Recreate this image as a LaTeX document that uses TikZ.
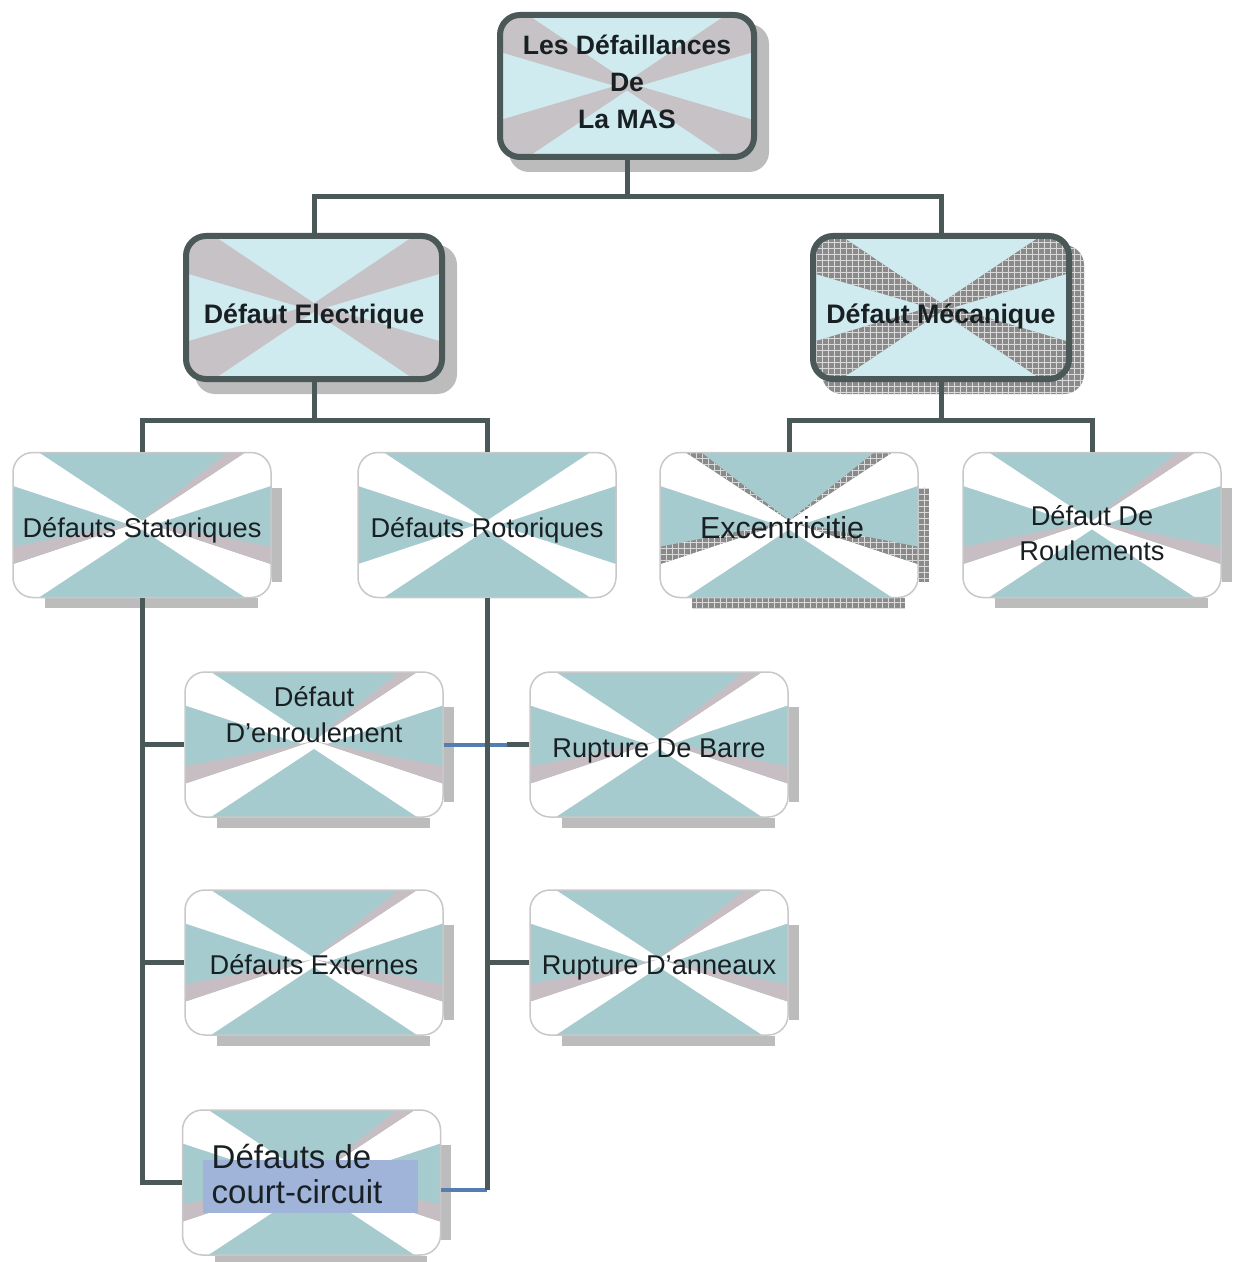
\documentclass[tikz,border=0pt]{standalone}
\usepackage{fontspec}
\setmainfont{Liberation Sans}
\usetikzlibrary{calc,patterns,backgrounds}

\definecolor{bord}{RGB}{75,88,88}
\definecolor{topfill}{RGB}{208,235,239}
\definecolor{topx}{RGB}{198,194,198}
\definecolor{l3fill}{RGB}{166,203,207}
\definecolor{l3bord}{RGB}{200,200,200}
\definecolor{shad}{RGB}{188,188,188}
\definecolor{darkx}{RGB}{138,138,138}
\definecolor{sliver}{RGB}{198,190,194}
\definecolor{hl}{RGB}{160,180,218}
\definecolor{blueline}{RGB}{85,125,175}
\definecolor{txt}{RGB}{25,32,35}

\newcommand\ppcoords{%
  \coordinate (pc) at (path picture bounding box.center);
  \coordinate (pnw) at (path picture bounding box.north west);
  \coordinate (pne) at (path picture bounding box.north east);
  \coordinate (psw) at (path picture bounding box.south west);
  \coordinate (pse) at (path picture bounding box.south east);}

% tapered bands from the four corners towards the centre
% #1 style, #2 fraction along vertical edge, #3 fraction along horizontal edge
\newcommand\bands[3]{%
  \path[sharp corners,#1] ($(pnw)!#2!(psw)$) -- (pnw) -- ($(pnw)!#3!(pne)$) -- ($(pc)+(2,-3)$) -- ($(pc)+(-2,3)$) -- cycle;
  \path[sharp corners,#1] ($(pne)!#3!(pnw)$) -- (pne) -- ($(pne)!#2!(pse)$) -- ($(pc)+(2,3)$) -- ($(pc)+(-2,-3)$) -- cycle;
  \path[sharp corners,#1] ($(psw)!#2!(pnw)$) -- (psw) -- ($(psw)!#3!(pse)$) -- ($(pc)+(2,3)$) -- ($(pc)+(-2,-3)$) -- cycle;
  \path[sharp corners,#1] ($(pse)!#2!(pne)$) -- (pse) -- ($(pse)!#3!(psw)$) -- ($(pc)+(-2,3)$) -- ($(pc)+(2,-3)$) -- cycle;}

\newcommand\xtopw[1]{\ppcoords\bands{#1}{0.26}{0.11}}

\newcommand\xthree[2]{%
  \ppcoords
  \bands{fill=white}{0.23}{0.10}
  \path[sharp corners,#1] ($(pne)!0.17!(pnw)$) -- ($(pne)!0.10!(pnw)$) -- ($(pc)+(-2,-3)$) -- cycle;
  \path[sharp corners,#1] ($(psw)!0.35!(pnw)$) -- ($(psw)!0.23!(pnw)$) -- ($(pc)+(-2,-3)$) -- cycle;
  \path[sharp corners,#1] ($(pse)!0.23!(pne)$) -- ($(pse)!0.35!(pne)$) -- ($(pc)+(2,-3)$) -- cycle;
  \path[sharp corners,#2] ($(pnw)!0.10!(pne)$) -- ($(pnw)!0.16!(pne)$) -- ($(pc)+(2,-3)$) -- cycle;}

\newcommand\boxtxt[2]{\raisebox{\dimexpr #1-0.61em+0.2\baselineskip\relax}[0pt][0pt]{\begin{tabular}{@{}c@{}}#2\end{tabular}}}
\newcommand\boxtxtl[2]{\raisebox{\dimexpr #1-0.61em+0.2\baselineskip\relax}[0pt][0pt]{\begin{tabular}{@{}l@{}}#2\end{tabular}}}

\newcommand\lowshadow[2]{%
  \fill[#2] ($(#1.north east)+(0,36)$) rectangle ($(#1.south east)+(10,-16)$);
  \fill[#2] ($(#1.south west)+(33,0)$) rectangle ($(#1.south east)+(-14,10)$);}

\tikzset{
  conn/.style={draw=bord, line width=2.5pt},
  blueconn/.style={draw=blueline, line width=2pt},
  hatchfill/.style={fill=darkx, postaction={pattern=grid, pattern color=gray!30}},
  shadowfill/.style={fill=shad},
  boxone/.style={draw=bord, line width=3pt, rounded corners=10pt, fill=topfill, text=txt,
    inner sep=0pt, font=\bfseries\fontsize{13.3}{18.5}\selectfont},
  boxthree/.style={draw=l3bord, line width=0.75pt, rounded corners=10pt, fill=l3fill, text=txt,
    inner sep=0pt, minimum width=129pt, minimum height=72.5pt, font=\fontsize{13.6}{17.5}\selectfont},
  greyx/.style={path picture={\xtopw{fill=topx}}},
  hatchx/.style={path picture={\xtopw{hatchfill}}},
  lightx/.style={path picture={\xthree{fill=sliver}{}}},
  whitex/.style={path picture={\xthree{}{}}},
  excx/.style={path picture={\xthree{hatchfill}{hatchfill}}},
  ccx/.style={path picture={\xthree{fill=sliver}{}%
    \fill[hl, sharp corners] ($(pc)+(-108.5,-22.5)$) rectangle ($(pc)+(106.5,30.5)$);}},
}

\begin{document}
\begin{tikzpicture}[x=0.5pt, y=-0.5pt]
\useasboundingbox (0,0) rectangle (1232,1262);

% level 1 and 2
\node[boxone, greyx, minimum width=127pt, minimum height=71pt] (top) at (627,86)
  {\boxtxt{2pt}{Les Défaillances\\De\\La MAS}};
\node[boxone, greyx, minimum width=128pt, minimum height=71.5pt, font=\bfseries\fontsize{13.4}{16}\selectfont] (elec) at (314,307.5)
  {\boxtxt{-3.25pt}{Défaut Electrique}};
\node[boxone, hatchx, minimum width=128pt, minimum height=71.5pt, font=\bfseries\fontsize{13.4}{16}\selectfont] (meca) at (941,307.5)
  {\boxtxt{-3.25pt}{Défaut Mécanique}};

% level 3
\node[boxthree, lightx] (stat) at (142,525) {\boxtxt{-1.5pt}{Défauts Statoriques}};
\node[boxthree, whitex] (rot) at (487,525) {\boxtxt{-1.5pt}{Défauts Rotoriques}};
\node[boxthree, excx, font=\fontsize{15.2}{18}\selectfont] (exc) at (789,525) {\hspace*{-7pt}\boxtxt{-1pt}{Excentricitie}};
\node[boxthree, lightx] (roul) at (1092,525) {\boxtxt{-4.25pt}{Défaut De\\Roulements}};

% level 4
\node[boxthree, lightx, font=\fontsize{13.6}{18}\selectfont] (enr) at (314,744.5) {\boxtxt{14.5pt}{Défaut\\D’enroulement}};
\node[boxthree, lightx] (barre) at (659,744.5) {\boxtxt{-1.75pt}{Rupture De Barre}};
\node[boxthree, lightx] (ext) at (314,962.5) {\boxtxt{-1.25pt}{Défauts Externes}};
\node[boxthree, lightx] (ann) at (659,962.5) {\boxtxt{-1.25pt}{Rupture D’anneaux}};
\node[boxthree, ccx, font=\fontsize{16.5}{17.5}\selectfont] (cc) at (311.5,1182.5)
  {\hspace*{-14.5pt}\boxtxtl{4pt}{Défauts de\\court-circuit}};

% shadows
\begin{scope}[on background layer]
  \fill[shad, rounded corners=10pt] ($(top.north west)+(12,12)$) rectangle ($(top.south east)+(12,12)$);
  \fill[shad, rounded corners=10pt] ($(elec.north west)+(12,12)$) rectangle ($(elec.south east)+(12,12)$);
  \path[hatchfill, rounded corners=10pt] ($(meca.north west)+(12,12)$) rectangle ($(meca.south east)+(12,12)$);
  \lowshadow{stat}{shadowfill}
  \lowshadow{exc}{hatchfill}
  \lowshadow{roul}{shadowfill}
  \lowshadow{enr}{shadowfill}
  \lowshadow{barre}{shadowfill}
  \lowshadow{ext}{shadowfill}
  \lowshadow{ann}{shadowfill}
  \lowshadow{cc}{shadowfill}
\end{scope}

% connectors
\coordinate (j1) at (627,197);
\coordinate (j2) at (314,420);
\coordinate (j3) at (941,420);
\draw[conn] (top.south) -- (j1);
\draw[conn] (elec.north) |- (j1) -| (meca.north);
\draw[conn] (elec.south) -- (j2);
\draw[conn] (stat.north) |- (j2) -| (rot.north);
\draw[conn] (meca.south) -- (j3);
\draw[conn] (exc.north) |- (j3) -| (roul.north);

% stator branch
\draw[conn] (stat.south) -- (stat.south |- cc.west) -- (cc.west);
\draw[conn] (enr.west) -- (enr.west -| stat.south);
\draw[conn] (ext.west) -- (ext.west -| stat.south);

% rotor branch
\coordinate (bj) at ($(barre.west)+(-22,0)$);
\coordinate (ccr) at ($(cc.east)+(0,7)$);
\draw[blueconn] (enr.east) -- (bj);
\draw[conn] (bj) -- (barre.west);
\draw[blueconn] (ccr) -- (ccr -| rot.south);
\draw[conn] (rot.south) -- (ccr -| rot.south);
\draw[conn] (ann.west) -- (ann.west -| rot.south);
\end{tikzpicture}
\end{document}
